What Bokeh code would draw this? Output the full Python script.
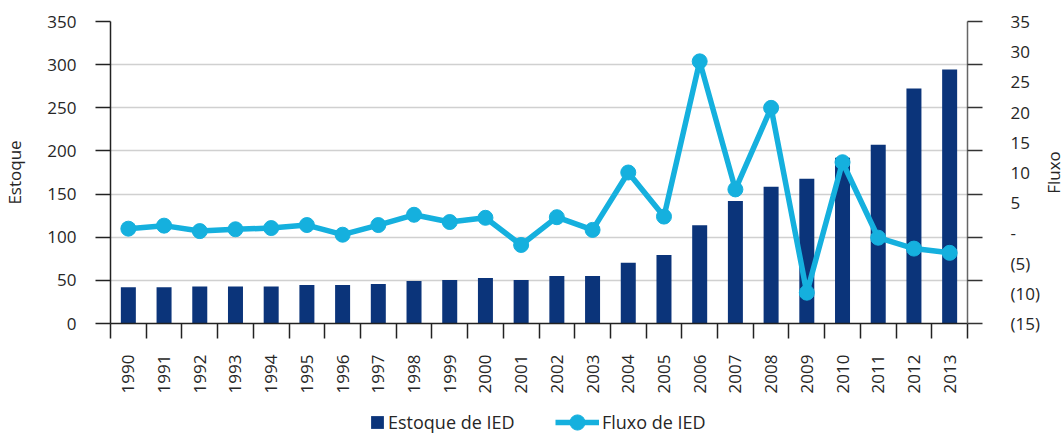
import math
from bokeh.plotting import figure
from bokeh.layouts import column, row
from bokeh.models import (Range1d, LinearAxis, FixedTicker, Legend, LegendItem, Grid,
                          ColumnDataSource, Label)
from bokeh.embed import file_html
from bokeh.resources import INLINE

years = ["1990", "1991", "1992", "1993", "1994", "1995", "1996", "1997", "1998", "1999",
         "2000", "2001", "2002", "2003", "2004", "2005", "2006", "2007", "2008", "2009",
         "2010", "2011", "2012", "2013"]
stock = [42, 42, 43, 43, 43, 44.5, 44.5, 45.7, 49.2, 50.3, 52.7, 50.3, 55, 55, 70.5, 79.4,
         114, 142, 158.5, 167.8, 192, 207.3, 272.4, 294.5]
flow = [0.7, 1.2, 0.3, 0.6, 0.8, 1.3, -0.3, 1.3, 3.0, 1.8, 2.5, -2.0, 2.6, 0.5, 10.0, 2.7,
        28.4, 7.2, 20.7, -9.9, 11.7, -0.8, -2.6, -3.3]
left_ticks = [0, 50, 100, 150, 200, 250, 300, 350]
right_ticks = [-15, -10, -5, 0, 5, 10, 15, 20, 25, 30, 35]
right_labels = ["(15)", "(10)", "(5)", "-", "5", "10", "15", "20", "25", "30", "35"]

NAVY = "#0b347a"
CYAN = "#15b0de"
FONT = "Open Sans"
TXT = "#262626"
W = 1042
H_MAIN = 409
H_LEG = 26

n = len(years)
xc = [i + 0.5 for i in range(n)]
src = ColumnDataSource(dict(x=xc, stock=stock, flow=flow, year=years))

p = figure(width=W, height=H_MAIN, x_range=Range1d(0, n), y_range=Range1d(0, 350),
           output_backend="svg", toolbar_location=None,
           x_axis_location=None, y_axis_location=None,
           min_border_left=100, min_border_right=72, min_border_top=21, min_border_bottom=86)
p.outline_line_color = None
p.center = [r for r in p.center if not isinstance(r, Grid)]
p.extra_y_ranges = {"flow": Range1d(-15, 35)}

grid = Grid(dimension=1, ticker=FixedTicker(ticks=left_ticks[1:]),
            grid_line_color="#d0d0d0", grid_line_width=1.5)
p.add_layout(grid)

bars = p.vbar(x="x", top="stock", width=0.42, source=src, fill_color=NAVY, line_color=None)
ln = p.line(x="x", y="flow", source=src, y_range_name="flow", line_color=CYAN, line_width=5.5)
pts = p.scatter(x="x", y="flow", source=src, y_range_name="flow", size=15,
                fill_color=CYAN, line_color=CYAN)

def style(ax):
    ax.major_label_text_font = FONT
    ax.major_label_text_font_size = "17px"
    ax.major_label_text_color = TXT
    ax.axis_label_text_font = FONT
    ax.axis_label_text_font_size = "17px"
    ax.axis_label_text_font_style = "normal"
    ax.axis_label_text_color = TXT

# left axis
la = LinearAxis(ticker=FixedTicker(ticks=left_ticks), axis_label="Estoque")
style(la)
la.axis_line_color = "#222222"
la.axis_line_width = 1.5
la.major_tick_line_color = "#222222"
la.major_tick_line_width = 1.5
la.major_tick_out = 15
la.major_tick_in = 0
la.major_label_standoff = 19
la.axis_label_standoff = 18
la.minor_tick_line_color = None
p.add_layout(la, "left")

# bottom axis
ba = LinearAxis(ticker=FixedTicker(ticks=xc, minor_ticks=list(range(n + 1))),
                major_label_overrides={xc[i]: years[i] for i in range(n)})
style(ba)
ba.major_label_orientation = math.pi / 2
ba.axis_line_color = "#222222"
ba.axis_line_width = 1.5
ba.major_tick_line_color = None
ba.major_tick_out = 0
ba.major_tick_in = 0
ba.minor_tick_line_color = "#222222"
ba.minor_tick_line_width = 1.5
ba.minor_tick_out = 15
ba.minor_tick_in = 0
ba.major_label_standoff = 16
p.add_layout(ba, "below")

# right axis (ticks + labels; its title sits in the narrow strip at the right)
ra = LinearAxis(y_range_name="flow",
                ticker=FixedTicker(ticks=right_ticks,
                                   minor_ticks=[-15 + k * 50 / 7 for k in range(8)]),
                major_label_overrides=dict(zip(right_ticks, right_labels)))
style(ra)
ra.axis_line_color = "#666666"
ra.axis_line_width = 1.5
ra.major_tick_line_color = None
ra.major_tick_out = 0
ra.major_tick_in = 0
ra.minor_tick_line_color = "#333333"
ra.minor_tick_line_width = 1.5
ra.minor_tick_out = 15
ra.minor_tick_in = 0
ra.major_label_standoff = 28
p.add_layout(ra, "right")

# legend strip: second figure; its glyphs share the data but are hidden
lp = figure(width=W, height=H_LEG, x_range=Range1d(-3, -2), y_range=Range1d(-3, -2),
            output_backend="svg", toolbar_location=None,
            x_axis_location=None, y_axis_location=None,
            min_border_left=0, min_border_right=0, min_border_top=0, min_border_bottom=0)
lp.outline_line_color = None
lp.center = [r for r in lp.center if not isinstance(r, Grid)]
bar_proxy = lp.vbar(x="x", top="stock", width=0.42, source=src, fill_color=NAVY, line_color=None)
ln_proxy = lp.line(x="x", y="flow", source=src, line_color=CYAN, line_width=5.5)
dot_proxy = lp.scatter(x="x", y="flow", source=src, marker="circle", fill_color=CYAN, line_color=CYAN)
for r in (bar_proxy, ln_proxy, dot_proxy):
    r.visible = False

def legend(items, loc, gw, gh):
    lg = Legend(items=items, location=loc, orientation="horizontal",
                glyph_width=gw, glyph_height=gh, label_height=16,
                label_text_font=FONT, label_text_font_size="18px", label_text_color=TXT,
                label_standoff=3, padding=0, margin=0, spacing=0,
                border_line_color=None, background_fill_alpha=0)
    lp.add_layout(lg)
    return lg

legend([LegendItem(label="Estoque de IED", renderers=[bar_proxy])], (259, 1), 16, 16)
legend([LegendItem(label="Fluxo de IED", renderers=[ln_proxy, dot_proxy])], (445, -6), 44, 38)

# right title strip
ff = figure(width=22, height=H_MAIN, x_range=Range1d(0, 1), y_range=Range1d(0, 1),
            output_backend="svg", toolbar_location=None,
            x_axis_location=None, y_axis_location=None,
            min_border_left=0, min_border_right=0, min_border_top=21, min_border_bottom=86)
ff.outline_line_color = None
ff.center = [r for r in ff.center if not isinstance(r, Grid)]
ff.add_layout(Label(x=0.5, y=0.5, text="Fluxo", angle=math.pi / 2,
                    text_align="center", text_baseline="middle",
                    text_font=FONT, text_font_size="17px", text_color=TXT))

layout = row(column(p, lp, spacing=0), ff, spacing=0)
open("out.html", "w").write(file_html(layout, INLINE))
